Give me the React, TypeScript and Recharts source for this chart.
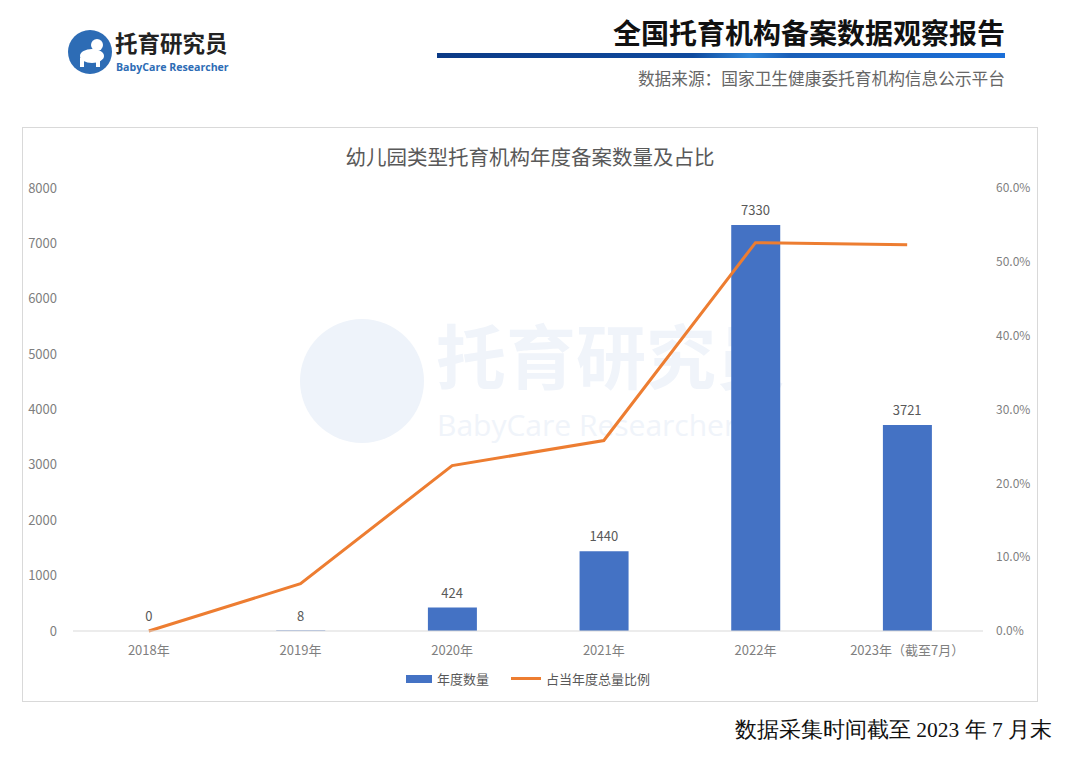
import React from "react";
import { ComposedChart, Bar, Line, XAxis, YAxis, LabelList } from "recharts";

const categories = ["2018年", "2019年", "2020年", "2021年", "2022年", "2023年（截至7月）"];
const counts = [0, 8, 424, 1440, 7330, 3721];
const ratios = [0.0, 0.064, 0.224, 0.258, 0.526, 0.523];
const leftTicks = [0, 1000, 2000, 3000, 4000, 5000, 6000, 7000, 8000];
const rightTicks = [0, 0.1, 0.2, 0.3, 0.4, 0.5, 0.6];

const data = categories.map((c, i) => ({ name: c, count: counts[i], ratio: ratios[i] }));

const FONT = '"Noto Sans CJK SC", "Noto Sans", sans-serif';
const tickStyle = { fontSize: 13, fill: "#7f7f7f", fontFamily: FONT };

export default function App() {
  return (
    <div style={{ position: "absolute", left: 0, top: 0, width: 1080, height: 774, background: "#fff", fontFamily: FONT, overflow: "hidden" }}>
      {/* Header logo */}
      <svg style={{ position: "absolute", left: 66, top: 28 }} width={50} height={50}>
        <circle cx={24} cy={24} r={22} fill="#2d6cb5" />
        <ellipse cx={26} cy={28} rx={12} ry={7} fill="#fff" />
        <circle cx={31} cy={17} r={6} fill="#fff" />
        <rect x={14} y={30} width={4} height={9} fill="#fff" />
        <rect x={30} y={30} width={4} height={9} fill="#fff" />
      </svg>
      <div style={{ position: "absolute", left: 115, top: 31, fontSize: 22.5, lineHeight: 1, fontWeight: 700, color: "#222", whiteSpace: "nowrap" }}>托育研究员</div>
      <div style={{ position: "absolute", left: 116, top: 61.5, fontSize: 10.6, lineHeight: 1, fontWeight: 700, color: "#2d6cb5", fontFamily: '"Open Sans", sans-serif', whiteSpace: "nowrap" }}>BabyCare Researcher</div>

      {/* Header title */}
      <div style={{ position: "absolute", right: 75, top: 12, fontSize: 28, fontWeight: 700, color: "#111", whiteSpace: "nowrap" }}>全国托育机构备案数据观察报告</div>
      <div style={{ position: "absolute", left: 437, top: 53, width: 568, height: 5, background: "linear-gradient(90deg, #0b3a86 0%, #0f4a9e 45%, #2f86d8 55%, #1a5fb8 62%, #1b6fd8 100%)" }} />
      <div style={{ position: "absolute", right: 75, top: 66, fontSize: 16.7, color: "#666", whiteSpace: "nowrap" }}>数据来源：国家卫生健康委托育机构信息公示平台</div>

      {/* Chart box */}
      <div style={{ position: "absolute", left: 22, top: 127, width: 1014, height: 573, border: "1px solid #d9d9d9", boxSizing: "content-box" }}>
        {/* watermark */}
        <svg style={{ position: "absolute", left: 0, top: 0 }} width={1014} height={573}>
          <circle cx={339} cy={253} r={62} fill="#eef3fa" />
          <text x={413} y={256} fontSize={70} fontWeight={700} fill="#f0f4fa" fontFamily={FONT}>托育研究员</text>
          <text x={414} y={308} fontSize={30} fill="#f0f4fa" fontFamily='"Open Sans", sans-serif'>BabyCare Researcher</text>
        </svg>
        <div style={{ position: "absolute", left: 0, width: 1014, top: 13, textAlign: "center", fontSize: 20.5, color: "#595959" }}>幼儿园类型托育机构年度备案数量及占比</div>
        <div style={{ position: "absolute", left: 0, top: 0 }}>
          <ComposedChart width={1014} height={573} data={data} margin={{ top: 60, right: 0, bottom: 39, left: 0 }} barCategoryGap="34%">
            <XAxis dataKey="name" tickLine={false} axisLine={{ stroke: "#d9d9d9" }} tick={tickStyle} tickMargin={9} height={31} interval={0} />
            <YAxis yAxisId="left" domain={[0, 8000]} ticks={leftTicks} tickLine={false} axisLine={false} tick={tickStyle} tickMargin={10} width={50} />
            <YAxis yAxisId="right" orientation="right" domain={[0, 0.6]} ticks={rightTicks} tickLine={false} axisLine={false} tick={{ ...tickStyle, fontSize: 12 }} tickMargin={7} width={54} tickFormatter={(v: number) => (v * 100).toFixed(1) + "%"} />
            <Bar yAxisId="left" dataKey="count" fill="#4472c4" isAnimationActive={false} />
            <Line yAxisId="left" dataKey="count" stroke="none" dot={false} activeDot={false} legendType="none" isAnimationActive={false}>
              <LabelList dataKey="count" position="top" offset={10} style={{ fontSize: 13, fill: "#595959", fontFamily: FONT }} />
            </Line>
            <Line yAxisId="right" dataKey="ratio" stroke="#ed7d31" strokeWidth={3} dot={false} isAnimationActive={false} />
          </ComposedChart>
        </div>
        {/* legend */}
        <div style={{ position: "absolute", left: 383, top: 541, display: "flex", alignItems: "center", fontSize: 13, color: "#595959" }}>
          <span style={{ display: "inline-block", width: 26, height: 8, background: "#4472c4", marginRight: 5 }} />
          <span>年度数量</span>
          <span style={{ display: "inline-block", width: 30, height: 3, background: "#ed7d31", marginLeft: 22, marginRight: 5 }} />
          <span>占当年度总量比例</span>
        </div>
      </div>

      {/* footer */}
      <div style={{ position: "absolute", right: 28, top: 715, fontSize: 21.5, color: "#111", fontFamily: '"Liberation Serif", "DejaVu Serif", serif', whiteSpace: "nowrap" }}>数据采集时间截至 2023 年 7 月末</div>
    </div>
  );
}
